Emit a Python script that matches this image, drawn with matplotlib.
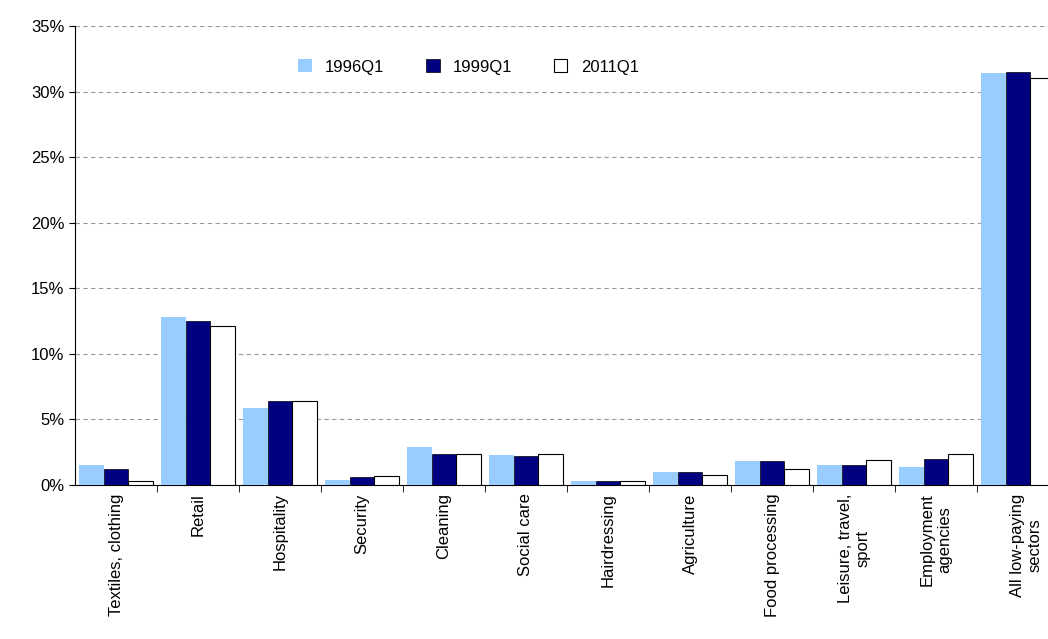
import matplotlib
matplotlib.use("Agg")
import matplotlib.pyplot as plt
import numpy as np

plt.rcParams['font.family'] = ['Liberation Sans', 'DejaVu Sans']

categories = ["Textiles, clothing", "Retail", "Hospitality", "Security", "Cleaning",
              "Social care", "Hairdressing", "Agriculture", "Food processing",
              "Leisure, travel,\nsport", "Employment\nagencies", "All low-paying\nsectors"]
s1996 = [1.5, 12.8, 5.9, 0.4, 2.9, 2.3, 0.3, 1.0, 1.8, 1.5, 1.4, 31.4]
s1999 = [1.2, 12.5, 6.4, 0.6, 2.4, 2.2, 0.3, 1.0, 1.8, 1.5, 2.0, 31.5]
s2011 = [0.3, 12.1, 6.4, 0.7, 2.4, 2.4, 0.3, 0.8, 1.2, 1.9, 2.4, 31.0]
yticks = [0, 5, 10, 15, 20, 25, 30, 35]

fig = plt.figure(figsize=(10.48, 6.39), dpi=100)
n = len(categories)
ax = fig.add_axes([75/1048, 1-485/639, (n*82)/1048, (485-26)/639])
x = np.arange(n)
w = 0.3
ax.bar(x - w, s1996, w, color='#99CCFF', label='1996Q1', zorder=3)
ax.bar(x, s1999, w, color='#000080', edgecolor='#000000', linewidth=0.5, label='1999Q1', zorder=3)
ax.bar(x + w, s2011, w, color='white', edgecolor='black', linewidth=0.8, label='2011Q1', zorder=3)
ax.set_xlim(-0.5, n - 0.5)
ax.set_ylim(0, 35)
ax.set_yticks(yticks)
ax.set_yticklabels([f"{t}%" for t in yticks], fontsize=12)
ax.yaxis.grid(True, linestyle=(0, (4, 3)), color='#999999', linewidth=0.8, zorder=0)
tickpos = list(x[:-1]) + [x[-1] + 0.1]
ax.set_xticks(tickpos)
ax.set_xticklabels(categories, rotation=90, fontsize=12, va='top', ha='center')
ax.set_xticks(np.arange(n - 1) + 0.5, minor=True)
ax.tick_params(axis='x', which='major', length=0, pad=6)
ax.tick_params(axis='x', which='minor', length=5, direction='out')
ax.tick_params(axis='y', direction='out', length=4)
for sp in ['top', 'right']:
    ax.spines[sp].set_visible(False)
leg = ax.legend(ncol=3, loc='upper center', bbox_to_anchor=(0.4, 0.96), frameon=True,
                fontsize=12, handlelength=0.8, handleheight=0.8, columnspacing=2.5,
                fancybox=False, edgecolor='white', framealpha=1)
fig.savefig("out.png", dpi=100)
